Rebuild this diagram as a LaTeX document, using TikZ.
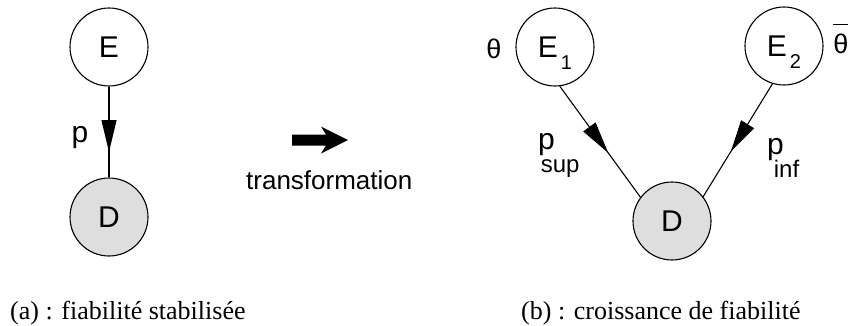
\documentclass[tikz,border=0pt]{standalone}
\usepackage{fontspec}
\setmainfont{Liberation Sans}
\newfontfamily\capfont{Liberation Serif}
\usetikzlibrary{arrows.meta,decorations.markings}
\definecolor{dfill}{gray}{0.87}
\tikzset{
  snode/.style={circle,draw,line width=1.1pt,minimum size=78pt,inner sep=0pt,font=\fontsize{30}{30}\selectfont},
  obsnode/.style={snode,fill=dfill},
  link/.style={line width=1.1pt,postaction={decorate},
    decoration={markings,mark=at position #1 with {\arrow{Triangle[length=32pt,width=15pt]}}}},
  lab/.style={inner sep=0pt,font=\fontsize{30}{30}\selectfont},
  thlab/.style={inner sep=0pt,anchor=base,font=\fontsize{27}{27}\selectfont},
  caption/.style={inner sep=0pt,anchor=base west,font=\capfont\fontsize{26}{26}\selectfont},
}
\begin{document}
\begin{tikzpicture}[x=1pt,y=-1pt]
\useasboundingbox (0,0) rectangle (852,325);
% (a)
\node[snode] (E) at (109,47) {E};
\node[obsnode] (Dl) at (109,217) {D};
\draw[link=0.72] (E.south) -- (Dl.north);
\node[lab] (p) at (80,137.5) {p};
% transformation arrow
\fill (292,134.5) -- (326,134.5) -- (321,126.5) -- (348,140) -- (321,153.5) -- (326,145.5) -- (292,145.5) -- cycle;
\node[inner sep=0pt,anchor=base west,font=\fontsize{26}{26}\selectfont] (tr) at (246,189) {transformation};
% (b)
\node[snode] (E1) at (555,47) {E\hspace{3pt}\smash{\raisebox{-12pt}{\fontsize{20}{20}\selectfont 1}}};
\node[snode] (E2) at (784,46) {E\hspace{3pt}\smash{\raisebox{-12pt}{\fontsize{20}{20}\selectfont 2}}};
\node[obsnode] (Dr) at (672,221) {D};
\draw[link=0.6] (E1.-83) -- (Dr.143);
\draw[link=0.6] (E2.-107) -- (Dr.38);
\node[lab,anchor=base west] (psup) at (538,149) {p\hspace{-14pt}\smash{\raisebox{-23pt}{\fontsize{24}{24}\selectfont sup}}};
\node[lab,anchor=base west] (pinf) at (767,154) {p\hspace{-10pt}\smash{\raisebox{-23pt}{\fontsize{24}{24}\selectfont inf}}};
\node[thlab] (th) at (494,58) {θ};
\node[thlab] (thb) at (841,53) {\rlap{\raisebox{28pt}{\rule{15pt}{1pt}}}θ};
% captions
\node[caption] (capa) at (10,319) {(a) : fiabilité stabilisée};
\node[caption] (capb) at (521,319) {(b) : croissance de fiabilité};
\end{tikzpicture}
\end{document}
